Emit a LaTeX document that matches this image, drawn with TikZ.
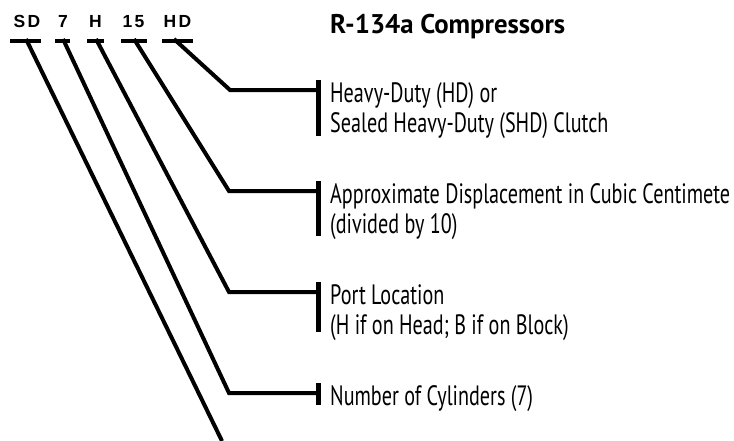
\documentclass[tikz,border=0pt]{standalone}
\usepackage{fontspec}
\setmainfont{PT Sans}
\newfontfamily\codefont[LetterSpace=14]{Liberation Sans}
\newsavebox\mybox
\newdimen\mydim
\newcommand\twoline[2]{\begin{tabular}[t]{@{}l@{}}#1\\#2\end{tabular}}
\begin{document}%
\sbox\mybox{\fontsize{28}{30}\selectfont Approximate Displacement in Cubic Centimete}%
\mydim=\wd\mybox
\pgfmathsetmacro\sx{400/\mydim}%
\sbox\mybox{\bfseries\fontsize{27}{30}\selectfont R-134a Compressors}%
\mydim=\wd\mybox
\pgfmathsetmacro\st{235/\mydim}%
\begin{tikzpicture}[x=1pt,y=-1pt,
  wire/.style={line width=4pt, line join=miter},
  codebar/.style={line width=4pt},
  tickbar/.style={line width=4.5pt},
  code/.style={font=\codefont\bfseries\fontsize{17.5}{20}\selectfont, inner sep=0pt, anchor=base},
  lab/.style={inner sep=0pt, anchor=base west, font=\fontsize{28}{30}\selectfont},
  ttl/.style={inner sep=0pt, anchor=base west, font=\bfseries\fontsize{27}{30}\selectfont}]
\useasboundingbox[fill=white] (0,0) rectangle (734,440);
% title
\node[ttl] (title) at (330,33) {\scalebox{\st}[1]{R-134a Compressors}};
% code letters
\node[code] (sd)  at (27,27.5) {SD};
\node[code] (c7)  at (63,27.5) {7};
\node[code] (ch)  at (95.5,27.5) {H};
\node[code] (c15) at (133.5,27.5) {15};
\node[code] (chd) at (177.5,27.5) {HD};
% bars under codes
\draw[codebar] (10,40.5) -- (41,40.5);
\draw[codebar] (55,40.5) -- (70,40.5);
\draw[codebar] (87,40.5) -- (104,40.5);
\draw[codebar] (121,40.5) -- (147,40.5);
\draw[codebar] (162,40.5) -- (193,40.5);
% connector points
\coordinate (sdS) at (26,39);  \coordinate (sdE) at (222,441);
\coordinate (s7)  at (63,39);  \coordinate (k7)  at (229,393);
\coordinate (sh)  at (96,39);  \coordinate (kh)  at (229,292);
\coordinate (s15) at (134,39); \coordinate (k15) at (229,191);
\coordinate (shd) at (174,39); \coordinate (khd) at (230,90);
% ticks
\coordinate (thd) at (318.5,90);
\coordinate (t15) at (318.5,191);
\coordinate (th)  at (318.5,292);
\coordinate (t7)  at (318.5,393);
\draw[tickbar] (318.5,80) -- (318.5,136);
\draw[tickbar] (318.5,181) -- (318.5,236);
\draw[tickbar] (318.5,282) -- (318.5,332);
\draw[tickbar] (318.5,383) -- (318.5,405);
% connectors
\draw[wire] (sdS) -- (sdE);
\draw[wire] (s7) -- (k7) -- (t7);
\draw[wire] (sh) -- (kh) -- (th);
\draw[wire] (s15) -- (k15) -- (t15);
\draw[wire] (shd) -- (khd) -- (thd);
% labels
\node[lab] (lhd) at (330,102) {\scalebox{\sx}[1]{\twoline{Heavy-Duty (HD) or}{Sealed Heavy-Duty (SHD) Clutch}}};
\node[lab] (l15) at (330,203) {\scalebox{\sx}[1]{\twoline{Approximate Displacement in Cubic Centimete}{(divided by 10)}}};
\node[lab] (lh)  at (330,304) {\scalebox{\sx}[1]{\twoline{Port Location}{(H if on Head; B if on Block)}}};
\node[lab] (l7)  at (330,405) {\scalebox{\sx}[1]{Number of Cylinders (7)}};
\end{tikzpicture}%
\end{document}
